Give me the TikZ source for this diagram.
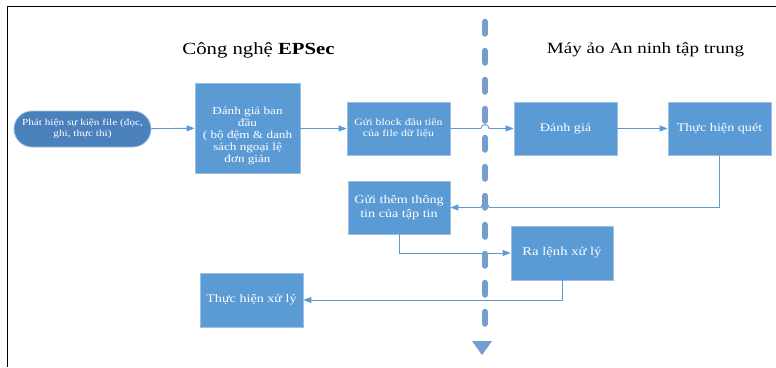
\documentclass[tikz,border=0pt]{standalone}
\usepackage{fontspec}
\setmainfont{Liberation Serif}[FakeStretch=1.22]
\usetikzlibrary{arrows.meta,shapes.misc}
\definecolor{boxblue}{RGB}{91,155,213}
\definecolor{boxedge}{RGB}{160,190,225}
\definecolor{ovalblue}{RGB}{74,128,188}
\definecolor{connblue}{RGB}{91,155,213}
\definecolor{dashblue}{RGB}{115,158,206}
\tikzset{
  stepbox/.style={draw=boxedge, line width=0.8pt, fill=boxblue, text=white, align=center,
    font=\fontsize{11.6}{13.5}\selectfont, inner sep=2pt},
  oval/.style={draw=boxedge, line width=0.8pt, fill=ovalblue, text=white, align=center,
    rounded rectangle, font=\fontsize{9.2}{11.5}\selectfont, inner sep=1pt},
  conn/.style={draw=connblue, line width=0.9pt, -{Triangle[length=8pt,width=6pt]}},
  title/.style={text=black},
  boxtext/.style={text=white, align=center, inner sep=0pt}
}
\begin{document}
\begin{tikzpicture}[x=1pt,y=-1pt]
\useasboundingbox (0,0) rectangle (776,367);
% frame
\draw[line width=1pt] (7,367) -- (7,6) -- (776,6);
% titles
\node[title, font=\fontsize{17}{19}\selectfont] (t1) at (258.5,50) {Công nghệ \textbf{EPSec}};
\node[title, font=\fontsize{15.6}{18}\selectfont] (t2) at (645.5,50) {Máy ảo An ninh tập trung};
% nodes
\node[oval, minimum width=139pt, minimum height=36pt] (ov) at (82.5,129) {Phát hiện sự kiện file (đọc,\\ ghi, thực thi)};
\node[stepbox, minimum width=105pt, minimum height=90pt] (b1) at (247.5,128) {};
\node[boxtext, font=\fontsize{10.8}{12}\selectfont] (b1t) at (247.5,135.5) {Đánh giá ban\\ đầu\\ ( bộ đệm \& danh\\ sách ngoại lệ\\ đơn giản};
\node[stepbox, minimum width=103pt, minimum height=53pt, font=\fontsize{9.7}{11.5}\selectfont] (b2) at (398.5,128.5) {Gửi block đầu tiên\\ của file dữ liệu};
\node[stepbox, minimum width=103pt, minimum height=53pt] (b3) at (565.5,128.5) {Đánh giá};
\node[stepbox, minimum width=103pt, minimum height=53pt] (b4) at (719.5,128.5) {Thực hiện quét};
\node[stepbox, minimum width=102pt, minimum height=53pt] (b5) at (399,207.5) {Gửi thêm thông\\ tin của tập tin};
\node[stepbox, minimum width=102pt, minimum height=54pt, font=\fontsize{12}{14}\selectfont] (b6) at (562,253) {Ra lệnh xử lý};
\node[stepbox, minimum width=103pt, minimum height=54pt] (b7) at (251.5,300) {Thực hiện xử lý};
% hop coordinates
\coordinate (h1) at (481,128.5);
\coordinate (h2) at (489,207.5);
% connectors
\draw[conn] (ov) -- (b1);
\draw[conn] (b1.east |- b2.west) -- (b2.west);
\draw[conn] (b2.east) -- (h1) arc (180:360:4) -- (b3.west);
\draw[conn] (b3) -- (b4);
\draw[conn] (b4.south) |- (h2) arc (0:-180:4) -- (b5.east);
\draw[conn] (b5.south) |- (b6.west);
\draw[conn] (b6.south) |- (b7.east);
% vertical dashed separator
\coordinate (d1) at (485,22);
\coordinate (d2) at (485,337);
\draw[dashblue, line width=6.5pt, line cap=round, dash pattern=on 11.5pt off 17.5pt] (d1) -- (d2);
\fill[dashblue] (472,341) -- (492,341) -- (482,355) -- cycle;
\end{tikzpicture}
\end{document}
